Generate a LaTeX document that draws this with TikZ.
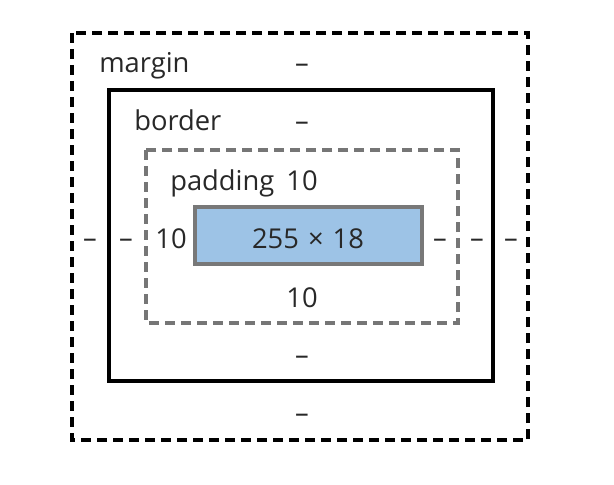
\documentclass[tikz,border=0pt]{standalone}
\usepackage{fontspec}
\setmainfont{Open Sans}
\definecolor{contentblue}{RGB}{157,195,230}
\definecolor{boxgray}{RGB}{120,120,120}
\definecolor{padgray}{RGB}{118,118,118}
\definecolor{txt}{RGB}{40,40,40}
\begin{document}
\begin{tikzpicture}[x=0.75pt,y=-0.75pt,
  lbl/.style={font=\fontsize{20.5}{24}\selectfont, text=txt, inner sep=0pt, anchor=base},
  lblw/.style={lbl, anchor=base west},
  marginbox/.style={draw=black, line width=2.3pt, dash pattern=on 7.5pt off 4.5pt},
  borderbox/.style={draw=black, line width=2.8pt},
  paddingbox/.style={draw=padgray, line width=2.6pt, dash pattern=on 7.5pt off 4.5pt},
  contentbox/.style={draw=boxgray, fill=contentblue, line width=2.7pt}
]
\useasboundingbox (0,0) rectangle (614,485);
\fill[white] (0,0) rectangle (614,485);
% boxes
\draw[marginbox] (72,33) rectangle (528,440);
\draw[borderbox] (109,90) rectangle (493,381);
\draw[paddingbox] (146,150) rectangle (458,323);
\draw[contentbox] (195,207) rectangle (422,264);
% margin row
\node[lblw] (mlabel) at (99,73) {margin};
\node[lbl] (mtop) at (302,73) {–};
% border row
\node[lblw] (blabel) at (134,130) {border};
\node[lbl] (btop) at (302,130) {–};
% padding row
\node[lblw] (plabel) at (170,190) {padding};
\node[lbl] (ptop) at (302,190) {10};
% content row
\node[lbl] (mleft) at (90,247) {–};
\node[lbl] (bleft) at (126,247) {–};
\node[lbl] (pleft) at (171,248) {10};
\node[lbl] (content) at (308,248) {255\,\,×\,\,18};
\node[lbl] (pright) at (440,247) {–};
\node[lbl] (bright) at (477,247) {–};
\node[lbl] (mright) at (511,247) {–};
% bottom
\node[lbl] (pbottom) at (302,307) {10};
\node[lbl] (bbottom) at (302,364) {–};
\node[lbl] (mbottom) at (302,422) {–};
\end{tikzpicture}
\end{document}
